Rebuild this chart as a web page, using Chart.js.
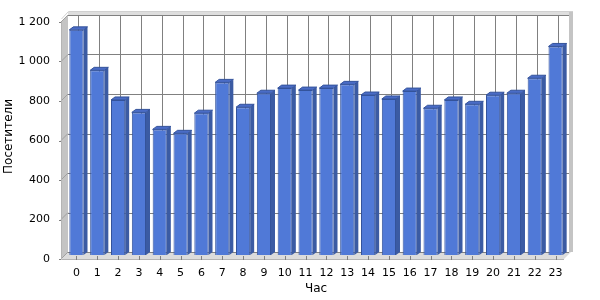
<!DOCTYPE html>
<html>
<head>
<meta charset="utf-8">
<script src="https://cdn.jsdelivr.net/npm/chart.js@4"></script>
<style>
  html, body { margin: 0; padding: 0; background: #fff; }
  canvas { display: block; }
</style>
</head>
<body>
<canvas id="myChart" width="600" height="300"></canvas>
<script>
/* globals Chart:false */

// data
const hours = ['0', '1', '2', '3', '4', '5', '6', '7', '8', '9', '10', '11',
  '12', '13', '14', '15', '16', '17', '18', '19', '20', '21', '22', '23']
const visitors = [1140, 935, 785, 722, 636, 616, 718, 874, 748, 819, 845, 835,
  845, 864, 810, 790, 830, 743, 785, 763, 809, 819, 895, 1056]
const yTicks = [0, 200, 400, 600, 800, 1000, 1200]

const FONT = 'DejaVu Sans'

// fake 3d: wall sits behind the bars, the axes in front of them
const back = { dx: 2, dy: -3 }
const front = { dx: -5, dy: 4 }
const barDepth = { dx: 4, dy: -3 }

const fmt = v => String(v).replace(/\B(?=(\d{3})+(?!\d))/g, ' ')

const walls = {
  id: 'walls',
  beforeDatasetsDraw (chart) {
    const { ctx, chartArea: a, scales: { x, y } } = chart
    const xF = a.left + front.dx, yF = a.bottom + front.dy
    const xB = a.left + back.dx, yBb = a.bottom + back.dy
    const xR = a.right + back.dx, yT = a.top + back.dy
    ctx.save()

    // floor
    ctx.fillStyle = '#dcdcdc'
    ctx.beginPath()
    ctx.moveTo(xF, yF); ctx.lineTo(xB, yBb); ctx.lineTo(xR + 3, yBb)
    ctx.lineTo(xR + 3 + front.dx - back.dx, yF); ctx.closePath(); ctx.fill()

    // left wall
    ctx.fillStyle = '#c4c4c4'
    ctx.beginPath()
    ctx.moveTo(xF, yF); ctx.lineTo(xF, yT - back.dy + front.dy)
    ctx.lineTo(xB, yT); ctx.lineTo(xB, yBb); ctx.closePath(); ctx.fill()

    // right edge and top edge of the box
    ctx.fillStyle = '#c4c4c4'
    ctx.fillRect(xR + 1, yT - 3, 4, yBb - yT + 3)
    ctx.fillStyle = '#dedede'
    ctx.fillRect(xB, yT - 3, xR - xB + 1, 3)
    ctx.strokeStyle = '#d0d0d0'
    ctx.lineWidth = 1
    ctx.beginPath()
    ctx.moveTo(xF + 0.5, yT - back.dy + front.dy - 3)
    ctx.lineTo(xB + 0.5, yT - 3.5)
    ctx.lineTo(xR + 5, yT - 3.5)
    ctx.stroke()

    // grid on the back wall
    ctx.strokeStyle = '#808080'
    ctx.beginPath()
    yTicks.forEach(v => {
      const py = Math.round(y.getPixelForValue(v) + back.dy) + 0.5
      ctx.moveTo(xB, py); ctx.lineTo(xR + 1, py)
    })
    hours.forEach((h, i) => {
      const px = Math.round(x.getPixelForValue(i) + back.dx) + 0.5
      ctx.moveTo(px, yT); ctx.lineTo(px, yBb)
    })
    ctx.stroke()

    // grid lines running across the left wall
    ctx.strokeStyle = '#a0a0a0'
    ctx.beginPath()
    yTicks.forEach(v => {
      const py = y.getPixelForValue(v)
      ctx.moveTo(xF, py + front.dy); ctx.lineTo(xB, py + back.dy)
    })
    ctx.stroke()

    // front axes
    ctx.strokeStyle = '#b4b4b4'
    ctx.beginPath()
    ctx.moveTo(xF + 0.5, yT - back.dy + front.dy); ctx.lineTo(xF + 0.5, yF + 0.5)
    ctx.lineTo(xR + 3 + front.dx - back.dx, yF + 0.5)
    ctx.stroke()

    ctx.strokeStyle = '#808080'
    ctx.beginPath()
    yTicks.forEach(v => {
      const py = Math.round(y.getPixelForValue(v) + front.dy) + 0.5
      ctx.moveTo(xF - 2, py); ctx.lineTo(xF, py)
    })
    hours.forEach((h, i) => {
      const px = Math.round(x.getPixelForValue(i)) + 0.5
      ctx.moveTo(px, yF - 3); ctx.lineTo(px, yF + 1)
    })
    ctx.stroke()
    ctx.restore()
  },
  afterDatasetsDraw (chart) {
    const { ctx } = chart
    const meta = chart.getDatasetMeta(0)
    ctx.save()
    ctx.lineWidth = 1
    ctx.strokeStyle = '#34539b'
    meta.data.forEach(bar => {
      const { x, y, base, width } = bar.getProps(['x', 'y', 'base', 'width'], true)
      const l = x - width / 2, r = x + width / 2
      // side
      ctx.fillStyle = '#3b5ba3'
      ctx.beginPath()
      ctx.moveTo(r, y); ctx.lineTo(r + barDepth.dx, y + barDepth.dy)
      ctx.lineTo(r + barDepth.dx, base + barDepth.dy); ctx.lineTo(r, base)
      ctx.closePath(); ctx.fill()
      // top
      ctx.fillStyle = '#4a6cc6'
      ctx.beginPath()
      ctx.moveTo(l, y); ctx.lineTo(l + barDepth.dx, y + barDepth.dy)
      ctx.lineTo(r + barDepth.dx, y + barDepth.dy); ctx.lineTo(r, y)
      ctx.closePath(); ctx.fill(); ctx.stroke()
    })
    ctx.restore()
  }
}

const ctx = document.getElementById('myChart')
const myChart = new Chart(ctx, {
  type: 'bar',
  data: {
    labels: hours,
    datasets: [{
      data: visitors,
      backgroundColor: '#5079d7',
      borderColor: '#34539b',
      borderWidth: 1,
      categoryPercentage: 1,
      barPercentage: 0.68
    }]
  },
  options: {
    responsive: false,
    animation: false,
    devicePixelRatio: 1,
    layout: { padding: { top: 18, right: 34, left: 0, bottom: 0 } },
    plugins: {
      legend: { display: false },
      tooltip: { enabled: false }
    },
    scales: {
      x: {
        grid: { display: false },
        border: { display: false },
        ticks: { color: '#000', font: { family: FONT, size: 11 }, padding: 4, maxRotation: 0, autoSkip: false },
        title: { display: true, text: 'Час', color: '#000', font: { family: FONT, size: 12 }, padding: { top: 0, bottom: 4 } },
        afterFit: s => { s.height = 45 }
      },
      y: {
        min: 0,
        max: 1200,
        grid: { display: false },
        border: { display: false },
        ticks: {
          stepSize: 200,
          color: '#000',
          font: { family: FONT, size: 11 },
          padding: 8,
          labelOffset: 4,
          callback: v => fmt(v)
        },
        title: { display: true, text: 'Посетители', color: '#000', font: { family: FONT, size: 12 }, padding: { top: 2, bottom: 0 } },
        afterFit: s => { s.width = 66 }
      }
    }
  },
  plugins: [walls]
})
</script>
</body>
</html>
